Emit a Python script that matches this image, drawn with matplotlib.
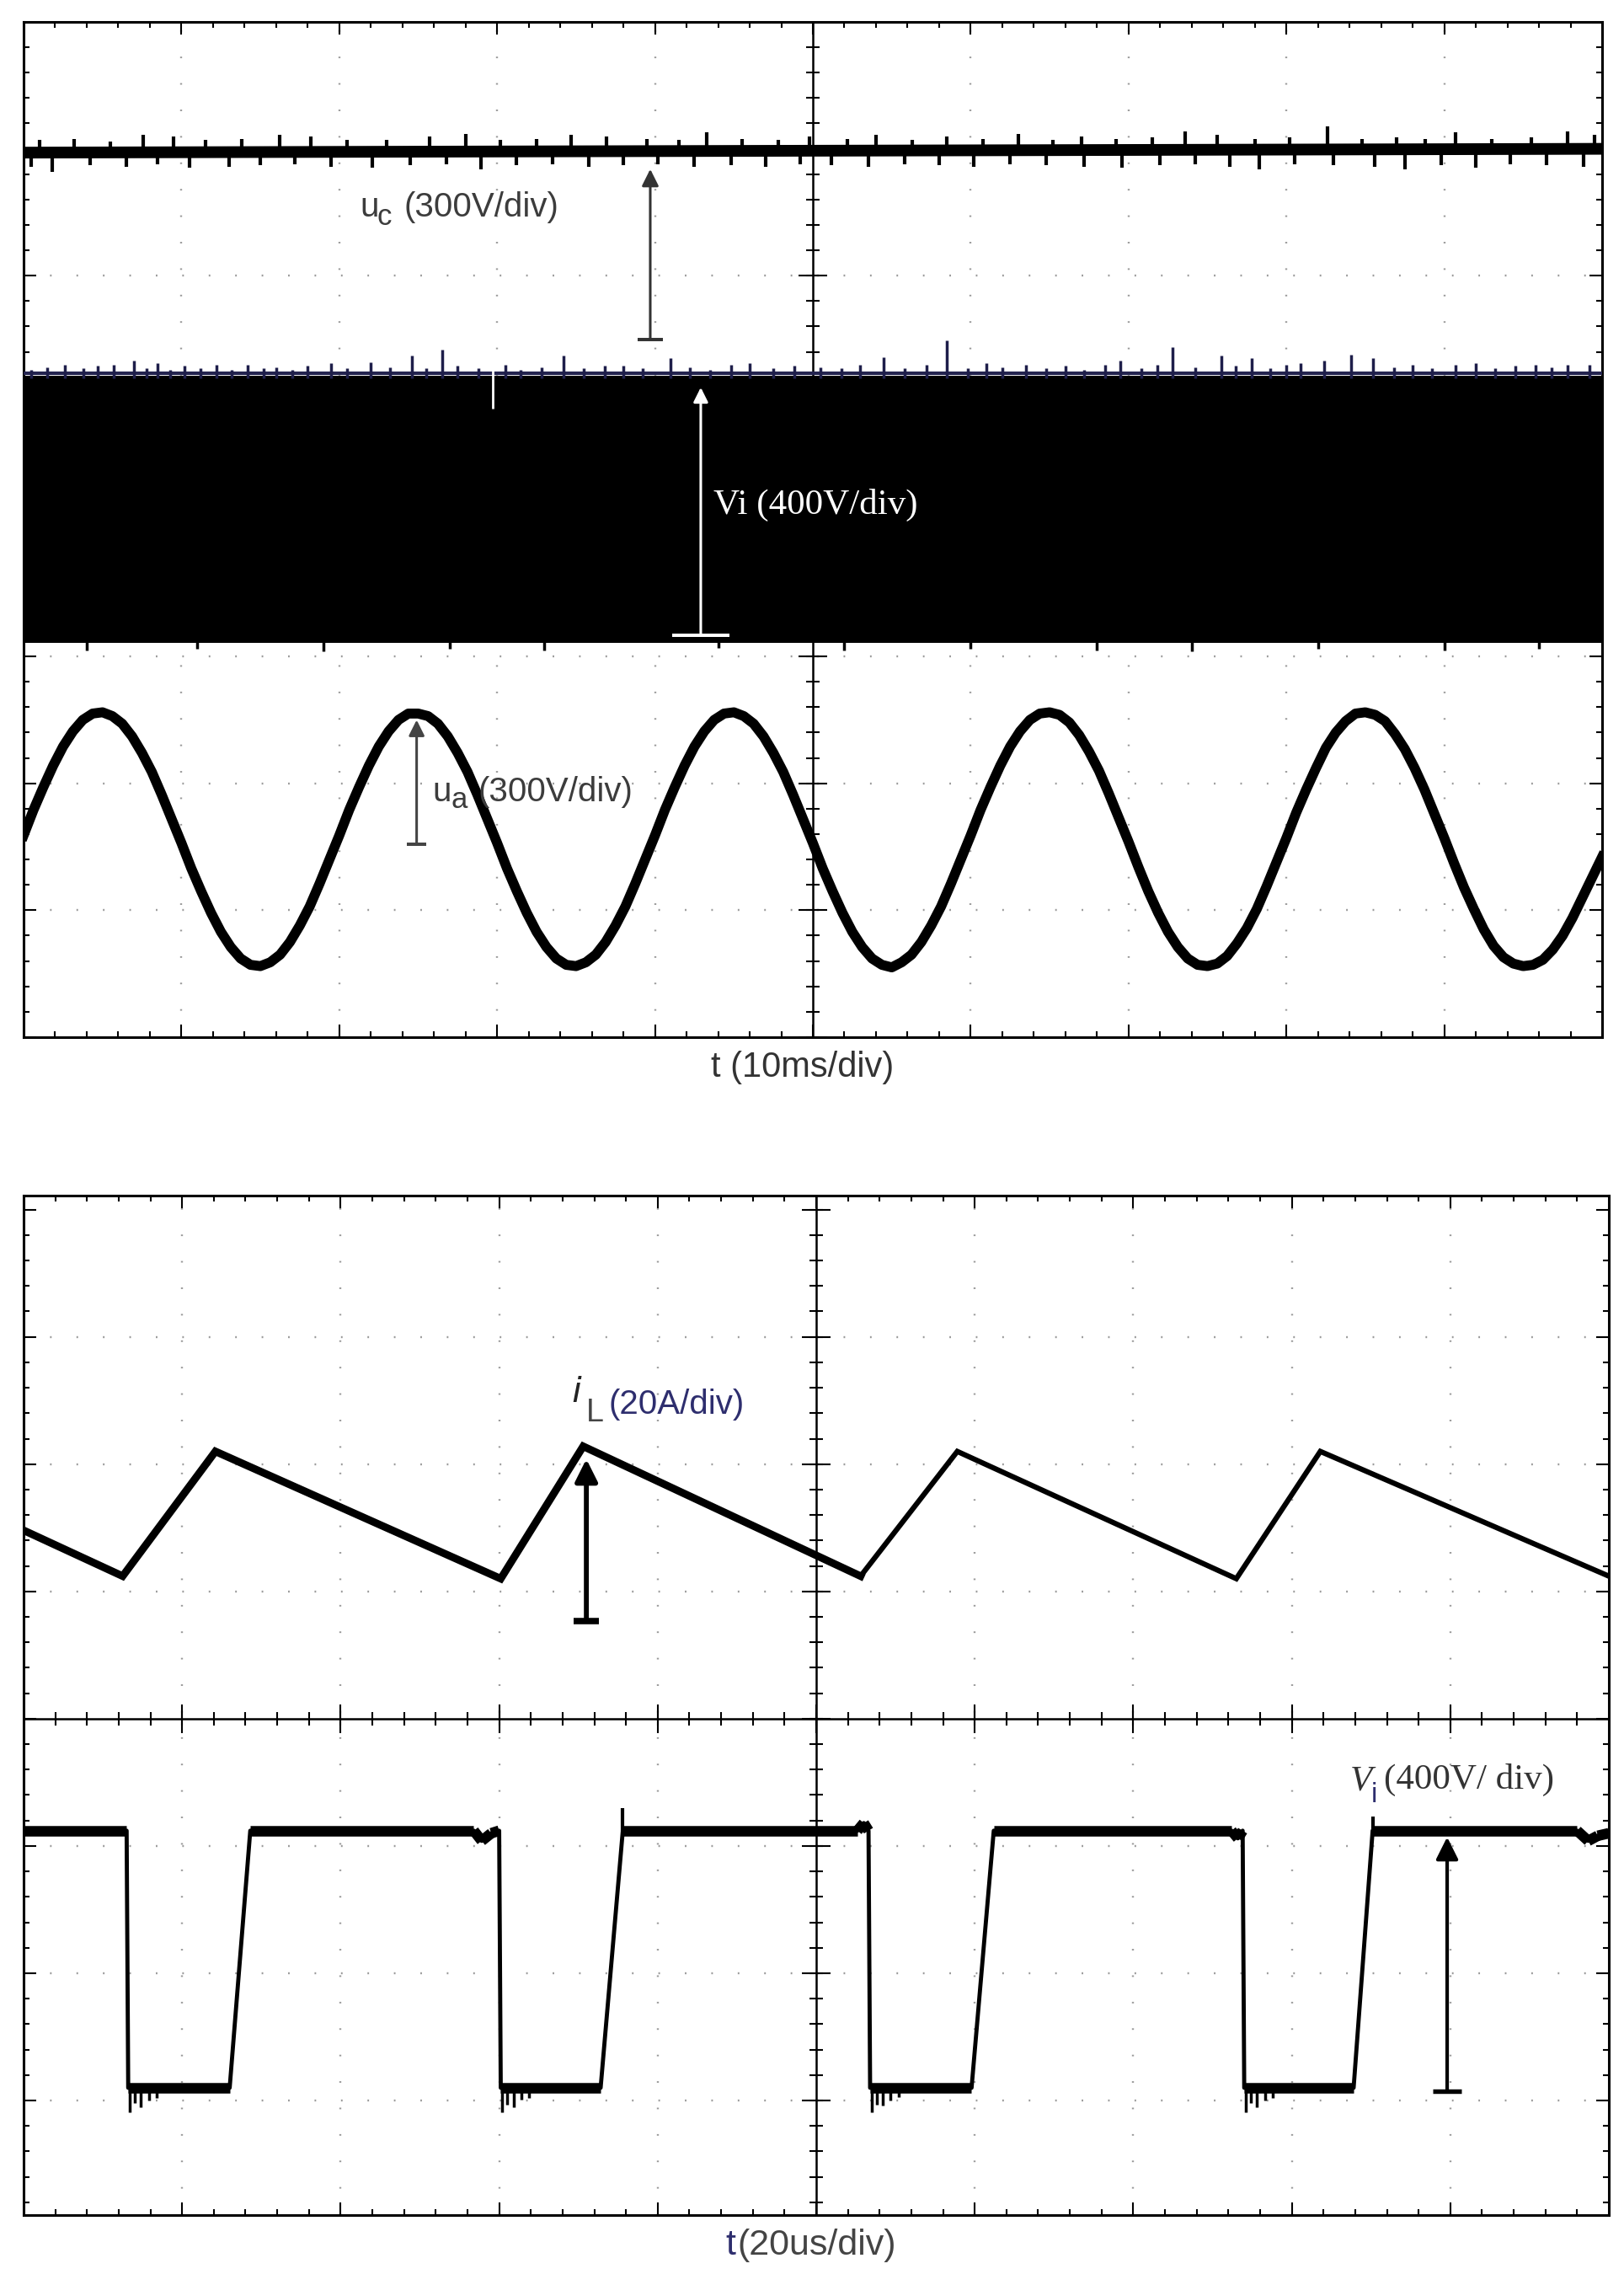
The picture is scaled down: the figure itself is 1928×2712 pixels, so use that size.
import matplotlib
matplotlib.use("Agg")
import matplotlib.pyplot as plt
import numpy as np

plt.rcParams['font.family'] = ['Liberation Sans', 'DejaVu Sans']
plt.rcParams['mathtext.fontset'] = 'custom'
plt.rcParams['mathtext.rm'] = 'Liberation Sans'
plt.rcParams['mathtext.it'] = 'Liberation Sans:italic'

# all values are in scope divisions (x: 0..10 div, y: div from screen centre)

# ---------------- top screen, t = 10 ms/div ----------------
uc_t = [0.0, 10.0]
uc_v = [2.97, 3.00]
uc_up_t = [0.10, 0.32, 0.55, 0.76, 0.95, 1.15, 1.38, 1.62, 1.82, 2.05, 2.30, 2.57, 2.80, 3.02, 3.25, 3.47, 3.69, 3.95,
           4.15, 4.33, 4.55, 4.78, 4.98, 5.22, 5.40, 5.63, 5.85, 6.08, 6.30, 6.52, 6.70, 6.92, 7.15, 7.36, 7.56, 7.80,
           8.02, 8.26, 8.48, 8.70, 8.88, 9.07, 9.30, 9.55, 9.78, 9.95]
uc_up_v = [3.07, 3.08, 3.06, 3.11, 3.10, 3.07, 3.08, 3.11, 3.10, 3.07, 3.07, 3.10, 3.12, 3.07, 3.08, 3.11, 3.10, 3.08,
           3.07, 3.13, 3.08, 3.07, 3.10, 3.08, 3.11, 3.07, 3.10, 3.08, 3.12, 3.07, 3.10, 3.08, 3.09, 3.14, 3.11, 3.08,
           3.09, 3.18, 3.08, 3.09, 3.08, 3.13, 3.08, 3.09, 3.14, 3.11]
uc_dn_t = [0.05, 0.18, 0.42, 0.65, 0.85, 1.05, 1.30, 1.50, 1.72, 1.95, 2.21, 2.45, 2.68, 2.90, 3.12, 3.35, 3.58, 3.80,
           4.02, 4.25, 4.48, 4.70, 4.92, 5.12, 5.35, 5.58, 5.80, 6.02, 6.25, 6.48, 6.72, 6.96, 7.20, 7.42, 7.64, 7.83,
           8.05, 8.30, 8.56, 8.75, 8.98, 9.20, 9.42, 9.65, 9.88]
uc_dn_v = [2.86, 2.82, 2.87, 2.86, 2.88, 2.85, 2.86, 2.87, 2.88, 2.86, 2.85, 2.87, 2.88, 2.84, 2.87, 2.88, 2.86, 2.87,
           2.88, 2.86, 2.87, 2.86, 2.88, 2.87, 2.86, 2.88, 2.87, 2.86, 2.88, 2.87, 2.86, 2.85, 2.87, 2.88, 2.86, 2.84,
           2.88, 2.87, 2.86, 2.84, 2.87, 2.85, 2.88, 2.87, 2.86]

vi_band_t = [0.0, 10.0]
vi_band_top = [1.21, 1.21]
vi_band_bot = [-0.89, -0.89]
vi_spike_t = [0.05, 0.15, 0.26, 0.38, 0.47, 0.57, 0.70, 0.78, 0.85, 0.93,
              1.02, 1.12, 1.22, 1.32, 1.42, 1.52, 1.60, 1.70, 1.80, 1.95,
              2.05, 2.20, 2.32, 2.46, 2.55, 2.65, 2.75, 2.88, 3.05, 3.15,
              3.28, 3.42, 3.55, 3.68, 3.80, 3.92, 4.10, 4.22, 4.35, 4.48,
              4.60, 4.75, 4.88, 5.05, 5.18, 5.30, 5.45, 5.58, 5.72, 5.85,
              5.98, 6.10, 6.20, 6.35, 6.48, 6.60, 6.72, 6.85, 6.95, 7.08,
              7.18, 7.28, 7.42, 7.59, 7.68, 7.78, 7.90, 8.00, 8.09, 8.24,
              8.41, 8.55, 8.68, 8.80, 8.92, 9.07, 9.20, 9.32, 9.45, 9.58,
              9.68, 9.78, 9.92]
vi_spike_v = [1.26, 1.28, 1.30, 1.27, 1.29, 1.30, 1.33, 1.27, 1.31, 1.26,
              1.29, 1.27, 1.30, 1.26, 1.30, 1.27, 1.28, 1.26, 1.29, 1.31,
              1.27, 1.32, 1.28, 1.37, 1.27, 1.42, 1.29, 1.27, 1.30, 1.26,
              1.28, 1.37, 1.27, 1.29, 1.29, 1.27, 1.35, 1.28, 1.26, 1.30,
              1.31, 1.27, 1.29, 1.28, 1.27, 1.30, 1.36, 1.27, 1.30, 1.49,
              1.27, 1.31, 1.28, 1.30, 1.27, 1.29, 1.26, 1.30, 1.33, 1.27,
              1.30, 1.44, 1.28, 1.37, 1.29, 1.35, 1.27, 1.30, 1.31, 1.33,
              1.38, 1.35, 1.28, 1.30, 1.27, 1.30, 1.31, 1.27, 1.29, 1.30,
              1.28, 1.30, 1.30]
vi_low_t = [0.40, 1.10, 1.90, 2.70, 3.30, 4.40, 5.20, 6.00, 6.80, 7.40, 8.20, 9.00, 9.60]
vi_low_v = [-0.95, -0.94, -0.96, -0.94, -0.95, -0.93, -0.95, -0.94, -0.95, -0.96, -0.94, -0.95, -0.94]
vi_glitch_t = [2.97]
vi_glitch_v = [0.95]

# a-phase voltage, read every 1/16 div
ua_v = [-2.41, -2.21, -2.03, -1.86, -1.71, -1.59, -1.50, -1.45, -1.44, -1.47, -1.53, -1.63, -1.76, -1.91, -2.09, -2.28,
        -2.47, -2.67, -2.85, -3.02, -3.17, -3.29, -3.38, -3.43, -3.44, -3.41, -3.35, -3.25, -3.12, -2.97, -2.79, -2.60,
        -2.41, -2.21, -2.03, -1.86, -1.71, -1.59, -1.50, -1.45, -1.45, -1.47, -1.53, -1.63, -1.76, -1.91, -2.09, -2.28,
        -2.47, -2.67, -2.85, -3.02, -3.17, -3.29, -3.38, -3.43, -3.44, -3.41, -3.35, -3.25, -3.12, -2.97, -2.79, -2.60,
        -2.41, -2.21, -2.03, -1.86, -1.71, -1.59, -1.50, -1.45, -1.44, -1.47, -1.53, -1.63, -1.76, -1.91, -2.09, -2.28,
        -2.47, -2.67, -2.85, -3.02, -3.17, -3.29, -3.38, -3.43, -3.45, -3.41, -3.35, -3.25, -3.12, -2.97, -2.79, -2.60,
        -2.41, -2.21, -2.03, -1.86, -1.71, -1.59, -1.50, -1.45, -1.44, -1.46, -1.52, -1.62, -1.75, -1.90, -2.08, -2.27,
        -2.46, -2.66, -2.85, -3.02, -3.17, -3.29, -3.38, -3.43, -3.44, -3.42, -3.36, -3.26, -3.14, -2.99, -2.81, -2.62,
        -2.43, -2.23, -2.05, -1.88, -1.72, -1.60, -1.51, -1.45, -1.44, -1.46, -1.51, -1.61, -1.73, -1.88, -2.05, -2.24,
        -2.43, -2.63, -2.82, -2.99, -3.15, -3.28, -3.37, -3.42, -3.44, -3.43, -3.39, -3.31, -3.20, -3.06, -2.90, -2.74,
        -2.58]
ua_t = np.linspace(0, 10, len(ua_v))

# ---------------- bottom screen, t = 20 us/div ----------------
iL_t = [0.0, 0.625, 1.21, 3.01, 3.53, 5.28, 5.89, 7.65, 8.18, 10.0]
iL_v = [1.48, 1.12, 2.10, 1.10, 2.14, 1.12, 2.10, 1.10, 2.10, 1.12]

vo_t = [0.0, 0.65, 0.66, 1.30, 1.43, 2.84, 2.89, 2.95, 3.00, 3.01, 3.64, 3.78, 5.26, 5.30, 5.33, 5.34, 5.98, 6.12,
        7.62, 7.66, 7.69, 7.70, 8.39, 8.51, 9.80, 9.87, 9.93, 10.0]
vo_v = [-0.88, -0.88, -2.90, -2.90, -0.88, -0.88, -0.96, -0.90, -0.88, -2.90, -2.90, -0.88, -0.88, -0.82, -0.88, -2.90, -2.90, -0.88,
        -0.88, -0.94, -0.88, -2.90, -2.90, -0.88, -0.88, -0.96, -0.92, -0.90]
ring_t = [0.67, 0.70, 0.74, 0.79, 0.84, 3.02, 3.05, 3.09, 3.14, 3.19, 5.35, 5.38, 5.42, 5.47, 5.52, 7.71, 7.74, 7.78, 7.83, 7.88]
ring_v = [-3.09, -3.02, -3.05, -3.00, -2.98, -3.09, -3.03, -3.05, -2.99, -2.98, -3.09, -3.03, -3.04, -3.00, -2.97, -3.09, -3.02, -3.05, -3.00, -2.98]
overshoot_t = [3.78, 8.51]
overshoot_v = [-0.70, -0.77]

# arrows: x, tip, base, half bar width
arr_uc = [3.97, 2.84, 1.50, 0.08]
arr_vi_top = [4.29, 1.12, -0.83, 0.18]
arr_ua = [2.49, -1.50, -2.48, 0.06]
arr_iL = [3.55, 2.04, 0.77, 0.08]
arr_vo = [8.98, -0.93, -2.93, 0.09]

TXT = '#3c3c3c'
NAVY = '#2e2e6e'


def scope_axes(ax, ylo, yhi):
    ax.set_xlim(0, 10)
    ax.set_ylim(ylo, yhi)
    ax.set_xticks(np.arange(1, 10))
    ax.set_xticks(np.arange(0.2, 10, 0.2), minor=True)
    ax.set_yticks(np.arange(np.ceil(ylo), yhi, 1.0))
    ax.set_yticks(np.arange(np.ceil(ylo * 5) / 5, yhi, 0.2), minor=True)
    ax.tick_params(which='both', direction='in', top=True, right=True,
                   labelbottom=False, labelleft=False, width=1.5, color='black')
    ax.tick_params(which='major', length=11)
    ax.tick_params(which='minor', length=5)
    for s in ax.spines.values():
        s.set_linewidth(2.2)
    # dotted graticule
    for x in range(1, 10):
        if x != 5:
            ax.axvline(x, color='#9a9a9a', lw=1.7, ls=(0, (0.8, 12.5)), zorder=0.5)
    for y in range(int(np.ceil(ylo)), int(np.floor(yhi)) + 1):
        if y != 0 and ylo + 0.3 < y < yhi - 0.3:
            ax.axhline(y, color='#9a9a9a', lw=1.7, ls=(0, (0.8, 12.5)), zorder=0.5)
    # centre cross with its small ticks
    ax.axvline(5, color='black', lw=1.8, zorder=1)
    ax.axhline(0, color='black', lw=1.8, zorder=1)
    ys = np.arange(np.ceil(ylo * 5) / 5, yhi, 0.2)
    xs = np.arange(0.2, 10, 0.2)
    ax.plot(np.full_like(ys, 5), ys, ls='none', marker='_', ms=12, mew=1.5, color='black', zorder=1)
    ax.plot(xs, np.zeros_like(xs), ls='none', marker='|', ms=12, mew=1.5, color='black', zorder=1)
    yi = np.arange(np.ceil(ylo), yhi, 1.0)
    ax.plot(np.full_like(yi, 5), yi, ls='none', marker='_', ms=24, mew=1.5, color='black', zorder=1)
    xi = np.arange(1, 10, 1.0)
    ax.plot(xi, np.zeros_like(xi), ls='none', marker='|', ms=24, mew=1.5, color='black', zorder=1)


def arrow(ax, a, color, lw, head):
    x, tip, base, half = a
    ax.annotate('', xy=(x, tip), xytext=(x, base),
                arrowprops=dict(arrowstyle='-|>', color=color, lw=lw, mutation_scale=head,
                                shrinkA=0, shrinkB=0), zorder=6)
    ax.plot([x - half, x + half], [base, base], color=color, lw=lw * 1.3,
            solid_capstyle='butt', zorder=6)


fig = plt.figure(figsize=(19.28, 27.12), dpi=100)

# ---------- top panel ----------
ax1 = fig.add_axes([28 / 1928, 1 - 1231 / 2712, 1874 / 1928, 1205 / 2712])
scope_axes(ax1, -4, 4)

ax1.plot(uc_t, uc_v, color='black', lw=10, solid_capstyle='butt', zorder=3)
ax1.vlines(uc_up_t, uc_v[0], uc_up_v, color='black', lw=3, zorder=3)
ax1.vlines(uc_dn_t, uc_v[0], uc_dn_v, color='black', lw=3, zorder=3)

ax1.fill_between(vi_band_t, vi_band_bot, vi_band_top, color='black', lw=0, zorder=3)
ax1.plot(vi_band_t, [v + 0.02 for v in vi_band_top], color='#23234f', lw=3, zorder=3)
ax1.vlines(vi_spike_t, vi_band_top[0] - 0.02, vi_spike_v, color='#1e1e4a', lw=2.5, zorder=3)
ax1.vlines(vi_low_t, vi_band_bot[0] + 0.02, vi_low_v, color='black', lw=2.5, zorder=3)
ax1.vlines(vi_glitch_t, vi_band_top[0] + 0.08, vi_glitch_v, color='white', lw=2, zorder=4)

ax1.plot(ua_t, ua_v, color='black', lw=8.5, solid_joinstyle='round', zorder=3)

arrow(ax1, arr_uc, '#333333', 2.2, 30)
arrow(ax1, arr_vi_top, 'white', 2.2, 26)
arrow(ax1, arr_ua, '#444444', 2.2, 28)

# u_c label
ax1.text(2.13, 2.54, 'u', fontsize=29, color=TXT, va='center', ha='left', zorder=7)
ax1.text(2.24, 2.46, 'c', fontsize=25, color=TXT, va='center', ha='left', zorder=7)
ax1.text(2.41, 2.54, '(300V/div)', fontsize=29, color=TXT, va='center', ha='left', zorder=7)
ax1.text(4.37, 0.19, 'Vi (400V/div)', fontsize=31, color='white', family='Liberation Serif',
         va='center', ha='left', zorder=7)
# u_a label
ax1.text(2.59, -2.07, 'u', fontsize=29, color=TXT, va='center', ha='left', zorder=7)
ax1.text(2.71, -2.13, 'a', fontsize=25, color=TXT, va='center', ha='left', zorder=7)
ax1.text(2.88, -2.07, '(300V/div)', fontsize=29, color=TXT, va='center', ha='left', zorder=7)

fig.text(0.494, 1 - 1267 / 2712, 't (10ms/div)', fontsize=30, color='#333333', ha='center', va='center')

# ---------- bottom panel ----------
ax2 = fig.add_axes([28 / 1928, 1 - 2629 / 2712, 1882 / 1928, 1210 / 2712])
scope_axes(ax2, -3.90, 4.11)

ax2.plot(iL_t[:6], iL_v[:6], color='black', lw=6.5, solid_joinstyle='miter', zorder=3)
ax2.plot(iL_t[5:], iL_v[5:], color='black', lw=4.5, solid_joinstyle='miter', zorder=3)

ax2.plot(vo_t, vo_v, color='black', lw=3.5, zorder=3)
# noisy flat levels drawn thicker
for i in range(len(vo_t) - 1):
    if abs(vo_v[i] - vo_v[i + 1]) < 0.2:
        ax2.plot(vo_t[i:i + 2], vo_v[i:i + 2], color='black', lw=9, solid_capstyle='butt', zorder=3)
ax2.vlines(ring_t, -2.90, ring_v, color='black', lw=2.5, zorder=3)
ax2.vlines(overshoot_t, -0.88, overshoot_v, color='black', lw=3, zorder=3)

arrow(ax2, arr_iL, 'black', 4.2, 40)
arrow(ax2, arr_vo, 'black', 3.0, 40)

ax2.text(3.46, 2.56, 'i', fontsize=31, style='italic', color='#222222', va='center', ha='left', zorder=7)
ax2.text(3.55, 2.40, 'L', fontsize=27, color='#444444', va='center', ha='left', zorder=7)
ax2.text(3.69, 2.47, '(20A/div)', fontsize=29, color=NAVY, va='center', ha='left', zorder=7)

ax2.text(8.37, -0.49, 'V', fontsize=31, style='italic', family='Liberation Serif', color='#333333',
         va='center', ha='left', zorder=7)
ax2.text(8.50, -0.60, 'i', fontsize=24, color=NAVY, va='center', ha='left', zorder=7)
ax2.text(8.58, -0.48, '(400V/ div)', fontsize=31, family='Liberation Serif', color='#333333',
         va='center', ha='left', zorder=7)

fig.text(861 / 1928, 1 - 2665 / 2712, 't', fontsize=31, color=NAVY, ha='left', va='center')
fig.text(875 / 1928, 1 - 2665 / 2712, '(20us/div)', fontsize=31, color='#444444', ha='left', va='center')

fig.savefig('out.png', dpi=100)
